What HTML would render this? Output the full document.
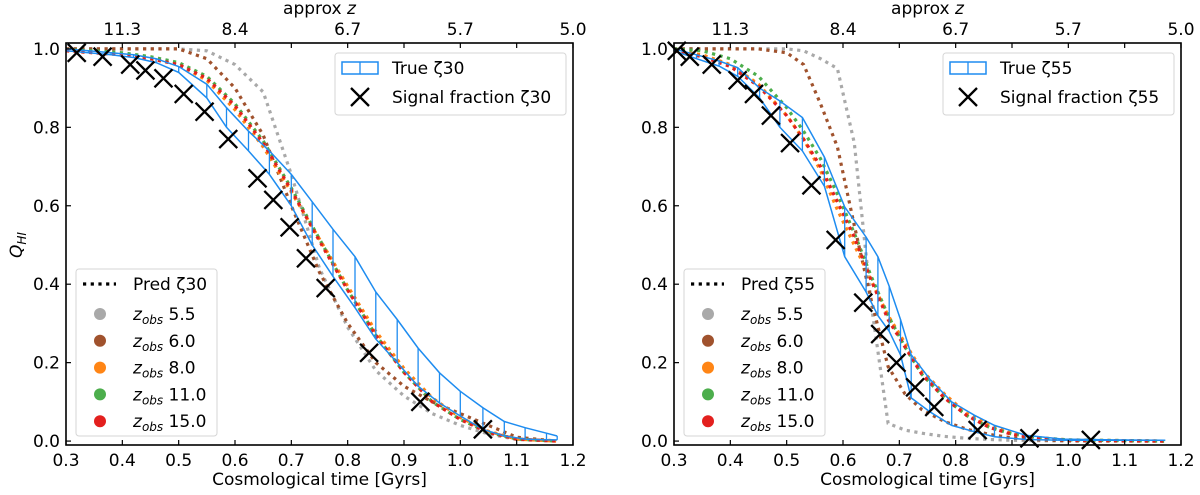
<!DOCTYPE html>
<html><head><meta charset="utf-8">
<style>
html,body{margin:0;padding:0;background:#fff;}
svg{display:block;font-family:"DejaVu Sans","Liberation Sans",sans-serif;}
</style></head>
<body>
<svg id="chart" width="1200" height="495" viewBox="0 0 1200 495" xmlns="http://www.w3.org/2000/svg"></svg>
<script>
// ---------- Data (left: zeta30) ----------
const leftTrueT = [0.30,0.34,0.38,0.42,0.46,0.50,0.55,0.585,0.624,0.661,0.70,0.737,0.774,0.813,0.85,0.888,0.925,0.963,1.0,1.04,1.078,1.115,1.153,1.172];
const leftTrueUpper = [1.0,0.995,0.99,0.985,0.975,0.955,0.91,0.85,0.79,0.74,0.68,0.61,0.54,0.47,0.38,0.31,0.237,0.174,0.127,0.085,0.05,0.034,0.02,0.013];
const leftTrueLower = [0.995,0.99,0.985,0.978,0.965,0.94,0.875,0.80,0.74,0.68,0.60,0.50,0.42,0.34,0.26,0.20,0.14,0.097,0.064,0.03,0.013,0.005,0.003,0.003];
const leftSignalT = [0.319,0.365,0.414,0.441,0.473,0.509,0.546,0.588,0.64,0.668,0.697,0.726,0.761,0.838,0.929,1.04];
const leftSignalQ = [0.99,0.98,0.96,0.945,0.925,0.885,0.84,0.77,0.67,0.615,0.545,0.466,0.39,0.225,0.10,0.03];
const leftPredT = [0.30,0.35,0.40,0.45,0.50,0.55,0.60,0.65,0.70,0.75,0.80,0.85,0.90,0.95,1.0,1.05,1.10,1.17];
const leftPred55 = [1.0,1.0,1.0,1.0,1.0,0.995,0.96,0.89,0.68,0.44,0.29,0.18,0.115,0.07,0.04,0.018,0.004,0.0];
const leftPred60 = [1.0,1.0,1.0,1.0,1.0,0.975,0.90,0.78,0.60,0.43,0.30,0.20,0.14,0.10,0.07,0.04,0.01,0.0];
const leftPred80 = [0.995,0.99,0.985,0.975,0.96,0.92,0.845,0.75,0.635,0.515,0.395,0.28,0.185,0.11,0.06,0.025,0.005,0.0];
const leftPred110 = [0.998,0.995,0.99,0.98,0.965,0.93,0.86,0.765,0.645,0.515,0.385,0.27,0.175,0.10,0.055,0.022,0.005,0.0];
const leftPred150 = [0.995,0.99,0.985,0.975,0.96,0.925,0.855,0.76,0.64,0.51,0.385,0.27,0.175,0.10,0.055,0.022,0.005,0.0];

// ---------- Data (right: zeta55) ----------
const rightTrueT = [0.30,0.34,0.38,0.413,0.452,0.488,0.528,0.567,0.603,0.641,0.662,0.682,0.702,0.721,0.754,0.793,0.833,0.869,0.924,0.99,1.08,1.172];
const rightTrueUpper = [1.0,0.985,0.969,0.952,0.90,0.867,0.825,0.724,0.597,0.52,0.47,0.395,0.31,0.22,0.158,0.10,0.066,0.04,0.015,0.005,0.003,0.002];
const rightTrueLower = [0.995,0.975,0.956,0.93,0.875,0.80,0.74,0.65,0.47,0.38,0.32,0.28,0.22,0.11,0.075,0.04,0.024,0.011,0.004,0.002,0.002,0.002];
const rightSignalT = [0.305,0.328,0.367,0.413,0.442,0.472,0.506,0.544,0.587,0.636,0.666,0.695,0.728,0.762,0.839,0.931,1.04];
const rightSignalQ = [0.995,0.98,0.96,0.92,0.885,0.83,0.76,0.652,0.513,0.353,0.273,0.20,0.137,0.087,0.028,0.007,0.003];
const rightPredT = [0.30,0.35,0.40,0.45,0.50,0.53,0.56,0.59,0.62,0.65,0.68,0.71,0.74,0.78,0.82,0.86,0.90,0.95,1.0,1.17];
const rightPred55 = [1.0,1.0,1.0,1.0,1.0,0.995,0.975,0.95,0.76,0.35,0.045,0.028,0.02,0.012,0.007,0.004,0.002,0.001,0.0,0.0];
const rightPred60 = [1.0,1.0,1.0,1.0,0.99,0.96,0.86,0.75,0.55,0.36,0.19,0.12,0.08,0.05,0.03,0.017,0.008,0.003,0.001,0.0];
const rightPred80 = [0.995,0.985,0.96,0.91,0.83,0.77,0.69,0.59,0.50,0.41,0.32,0.25,0.18,0.12,0.07,0.04,0.02,0.008,0.003,0.0];
const rightPred110 = [1.0,0.995,0.975,0.93,0.85,0.79,0.72,0.63,0.53,0.42,0.32,0.24,0.17,0.11,0.065,0.035,0.018,0.008,0.003,0.0];
const rightPred150 = [0.995,0.98,0.955,0.905,0.83,0.77,0.70,0.61,0.52,0.41,0.31,0.24,0.17,0.11,0.065,0.035,0.017,0.007,0.002,0.0];

const xTicks = [0.3,0.4,0.5,0.6,0.7,0.8,0.9,1.0,1.1,1.2];
const yTicks = [0.0,0.2,0.4,0.6,0.8,1.0];
const topTickPos = [0.4,0.6,0.8,1.0,1.2];
const topTickLabels = ["11.3","8.4","6.7","5.7","5.0"];
const zobsLabels = ["5.5","6.0","8.0","11.0","15.0"];
const predColors = ["#a9a9a9","#a0522d","#ff8515","#4cae4c","#e3201e"];

const NS = "http://www.w3.org/2000/svg";
const svg = document.getElementById("chart");
function mk(tag, attrs, parent){
  const e = document.createElementNS(NS, tag);
  for (const k in attrs) e.setAttribute(k, attrs[k]);
  (parent||svg).appendChild(e);
  return e;
}
const TOP = 43, BOT = 445, W = 507, FS = 17;
function yS(q){ return BOT - (q + 0.01) / 1.025 * (BOT - TOP); }

function panel(L, zeta, trueT, up, lo, sigT, sigQ, predT, preds, name){
  const xS = t => L + (t - 0.3) / 0.9 * W;
  const g = mk("g", {});
  
  
  preds.forEach((arr, i) => {
    const d = predT.map((t, j) => (j ? "L" : "M") + xS(t).toFixed(1) + "," + yS(arr[j]).toFixed(1)).join("");
    const p = mk("path", {d:d, fill:"none", stroke:predColors[i], "stroke-width":3.2, "stroke-dasharray":"3.2 4.5"}, g);
    
    
  });
  const ud = trueT.map((t, j) => (j ? "L" : "M") + xS(t).toFixed(1) + "," + yS(up[j]).toFixed(1)).join("");
  const ld = trueT.map((t, j) => (j ? "L" : "M") + xS(t).toFixed(1) + "," + yS(lo[j]).toFixed(1)).join("");
  let hd = "";
  trueT.forEach((t, j) => { hd += "M" + xS(t).toFixed(1) + "," + yS(up[j]).toFixed(1) + "L" + xS(t).toFixed(1) + "," + yS(lo[j]).toFixed(1); });
  const bu = mk("path", {d:ud, fill:"none", stroke:"#1e8cf0", "stroke-width":1.5}, g);
  
  
  const bl = mk("path", {d:ld, fill:"none", stroke:"#1e8cf0", "stroke-width":1.5}, g);
  
  
  const bh = mk("path", {d:hd, fill:"none", stroke:"#1e8cf0", "stroke-width":1.3}, g);
  
  
  sigT.forEach((t, j) => {
    const cx = xS(t), cy = yS(sigQ[j]), r = 9;
    const m = mk("path", {d:`M${cx-r},${cy-r}L${cx+r},${cy+r}M${cx-r},${cy+r}L${cx+r},${cy-r}`, stroke:"#000", "stroke-width":2.3, fill:"none"}, g);
    
    
  });
  const fr = mk("rect", {x:L, y:TOP, width:W, height:BOT-TOP, fill:"none", stroke:"#000", "stroke-width":1.6}, g);
  
  
  xTicks.forEach(t => {
    const x = xS(t);
    mk("line", {x1:x, x2:x, y1:BOT, y2:BOT-5, stroke:"#000", "stroke-width":1.2}, g);
    mk("line", {x1:x, x2:x, y1:TOP, y2:TOP+5, stroke:"#000", "stroke-width":1.2}, g);
    const tx = mk("text", {x:x, y:466, "text-anchor":"middle", "font-size":FS}, g);
    tx.textContent = t.toFixed(1);
    
    
  });
  yTicks.forEach(q => {
    const y = yS(q);
    mk("line", {x1:L, x2:L+5, y1:y, y2:y, stroke:"#000", "stroke-width":1.2}, g);
    const tx = mk("text", {x:L-6, y:y+6, "text-anchor":"end", "font-size":FS}, g);
    tx.textContent = q.toFixed(1);
    
    
  });
  topTickPos.forEach((t, i) => {
    const tx = mk("text", {x:xS(t), y:35, "text-anchor":"middle", "font-size":FS}, g);
    tx.textContent = topTickLabels[i];
    
    
  });
  const xt = mk("text", {x:L+W/2, y:485, "text-anchor":"middle", "font-size":FS}, g);
  xt.textContent = "Cosmological time [Gyrs]";
  
  
  const tt = mk("text", {x:L+W/2, y:14, "text-anchor":"middle", "font-size":FS}, g);
  tt.innerHTML = 'approx <tspan font-style="italic">z</tspan>';
  
  

  const lg = mk("g", {}, g);
  
  
  const lx = L + 269;
  mk("rect", {x:lx, y:53, width:231, height:62, rx:3, fill:"#fff", "fill-opacity":0.85, stroke:"#d6d6d6", "stroke-width":1}, lg);
  mk("rect", {x:lx+7, y:62, width:36, height:12, fill:"none", stroke:"#1e8cf0", "stroke-width":1.5}, lg);
  mk("line", {x1:lx+25, x2:lx+25, y1:62, y2:74, stroke:"#1e8cf0", "stroke-width":1.3}, lg);
  const t1 = mk("text", {x:lx+57, y:74, "font-size":FS}, lg);
  t1.textContent = "True ζ" + zeta;
  
  
  const mx = lx+25, my = 97;
  mk("path", {d:`M${mx-9},${my-9}L${mx+9},${my+9}M${mx-9},${my+9}L${mx+9},${my-9}`, stroke:"#000", "stroke-width":2.3}, lg);
  const t2 = mk("text", {x:lx+57, y:103, "font-size":FS}, lg);
  t2.textContent = "Signal fraction ζ" + zeta;
  
  

  const pg = mk("g", {}, g);
  
  
  const px = L + 10;
  mk("rect", {x:px, y:269, width:141, height:167, rx:3, fill:"#fff", "fill-opacity":0.85, stroke:"#d6d6d6", "stroke-width":1}, pg);
  mk("line", {x1:px+7, x2:px+40, y1:284, y2:284, stroke:"#000", "stroke-width":3.2, "stroke-dasharray":"3.2 4.5"}, pg);
  const pt = mk("text", {x:px+57, y:290, "font-size":FS}, pg);
  pt.textContent = "Pred ζ" + zeta;
  
  
  zobsLabels.forEach((z, i) => {
    const cy = 314 + i * 26.8;
    mk("circle", {cx:px+24, cy:cy, r:6, fill:predColors[i]}, pg);
    const tz = mk("text", {x:px+57, y:cy+6, "font-size":FS}, pg);
    tz.innerHTML = '<tspan font-style="italic">z</tspan><tspan font-style="italic" font-size="12" dy="4">obs</tspan><tspan dy="-4"> ' + z + '</tspan>';
    
    
  });
}

panel(66, "30", leftTrueT, leftTrueUpper, leftTrueLower, leftSignalT, leftSignalQ, leftPredT,
  [leftPred55, leftPred60, leftPred80, leftPred110, leftPred150], "left-panel-zeta30");
panel(674, "55", rightTrueT, rightTrueUpper, rightTrueLower, rightSignalT, rightSignalQ, rightPredT,
  [rightPred55, rightPred60, rightPred80, rightPred110, rightPred150], "right-panel-zeta55");

const yl = mk("text", {x:0, y:0, "text-anchor":"middle", "font-size":FS, transform:"translate(22,245) rotate(-90)"});
yl.innerHTML = '<tspan font-style="italic">Q</tspan><tspan font-style="italic" font-size="12" dy="4">HI</tspan>';


</script>
</body></html>
